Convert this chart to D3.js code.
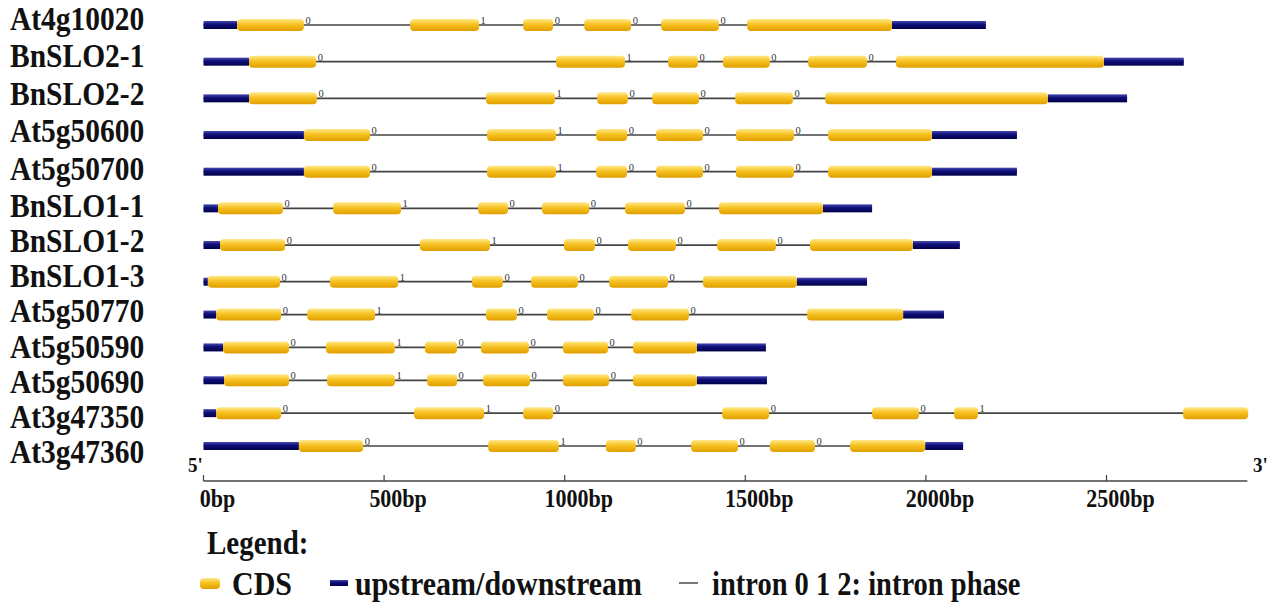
<!DOCTYPE html>
<html><head><meta charset="utf-8">
<script src="https://cdn.jsdelivr.net/npm/d3@7"></script>
<style>body{margin:0;background:#fff;} svg{display:block;}</style>
</head><body>
<svg id="chart" width="1281" height="602"></svg>
<script>
// ---- data (bp) ----
const genes = ["At4g10020","BnSLO2-1","BnSLO2-2","At5g50600","At5g50700","BnSLO1-1","BnSLO1-2","BnSLO1-3","At5g50770","At5g50590","At5g50690","At3g47350","At3g47360"];
const cds = [
  [[93,278],[572,763],[885,968],[1054,1184],[1267,1427],[1505,1906]],
  [[126,312],[976,1167],[1286,1369],[1438,1568],[1674,1837],[1917,2493]],
  [[126,314],[782,973],[1090,1175],[1242,1372],[1472,1632],[1721,2338]],
  [[278,461],[785,976],[1087,1173],[1253,1383],[1474,1635],[1729,2017]],
  [[278,461],[785,976],[1087,1173],[1253,1383],[1474,1635],[1729,2017]],
  [[40,220],[359,547],[760,843],[937,1068],[1167,1333],[1427,1715]],
  [[46,226],[599,793],[998,1084],[1175,1308],[1422,1585],[1679,1964]],
  [[12,212],[350,539],[743,829],[907,1037],[1123,1286],[1383,1643]],
  [[35,215],[287,475],[782,868],[951,1081],[1184,1344],[1671,1937]],
  [[54,237],[339,530],[613,702],[768,901],[995,1120],[1189,1366]],
  [[57,237],[342,530],[619,702],[774,904],[995,1123],[1189,1366]],
  [[35,215],[583,777],[885,968],[1436,1566],[1851,1981],[2078,2144],[2712,2892]],
  [[264,442],[788,984],[1114,1197],[1350,1480],[1568,1693],[1790,1998]]
];
const utr = [
  [[0,93],[1906,2166]],
  [[0,126],[2493,2714]],
  [[0,126],[2338,2557]],
  [[0,278],[2017,2252]],
  [[0,278],[2017,2252]],
  [[0,40],[1715,1851]],
  [[0,46],[1964,2094]],
  [[0,12],[1643,1837]],
  [[0,35],[1937,2050]],
  [[0,54],[1366,1557]],
  [[0,57],[1366,1560]],
  [[0,35]],
  [[0,264],[1998,2103]]
];
const phases = [
  [0,1,0,0,0],[0,1,0,0,0],[0,1,0,0,0],[0,1,0,0,0],[0,1,0,0,0],
  [0,1,0,0,0],[0,1,0,0,0],[0,1,0,0,0],[0,1,0,0,0],[0,1,0,0,0],
  [0,1,0,0,0],[0,1,0,0,0,1],[0,1,0,0,0]
];
const tickValues = [0,500,1000,1500,2000,2500];
const tickLabels = ["0bp","500bp","1000bp","1500bp","2000bp","2500bp"];
const axisMax = 2890;

// ---- drawing ----
const svg = d3.select("#chart");
const defs = svg.append("defs");
const gY = defs.append("linearGradient").attr("id","gCDS").attr("x1",0).attr("y1",0).attr("x2",0).attr("y2",1);
gY.append("stop").attr("offset","0%").attr("stop-color","#FFE98A");
gY.append("stop").attr("offset","45%").attr("stop-color","#F7C221");
gY.append("stop").attr("offset","100%").attr("stop-color","#E09E00");
const gB = defs.append("linearGradient").attr("id","gUTR").attr("x1",0).attr("y1",0).attr("x2",0).attr("y2",1);
gB.append("stop").attr("offset","0%").attr("stop-color","#4848B0");
gB.append("stop").attr("offset","40%").attr("stop-color","#10107A");
gB.append("stop").attr("offset","100%").attr("stop-color","#000048");

const x = d3.scaleLinear().domain([0, axisMax]).range([203.5, 203.5 + axisMax*0.3612]);
const yRow = d3.scaleLinear().domain([0,7,12]).range([25,281.7,446]);
const yLabCenter = d3.scaleLinear().domain([0,5,12]).range([20,207,453]);

const serif = "'Liberation Serif','Times New Roman',serif";
const cdsH = 12, utrH = 8;

function stretchText(parent, tx, ty, size, str, sy, anchor){
  return parent.append("text")
    .attr("transform",`translate(${tx},${ty}) scale(1,${sy})`)
    .attr("font-family",serif).attr("font-weight","bold").attr("font-size",size)
    .attr("fill","#111").attr("text-anchor",anchor||"start").text(str);
}

genes.forEach((g,i)=>{
  const yc = yRow(i);
  const row = svg.append("g");
  const allEnds = cds[i].concat(utr[i]);
  const start = d3.min(allEnds, d=>d[0]), end = d3.max(allEnds, d=>d[1]);
  row.append("line").attr("x1",x(start)).attr("x2",x(end)).attr("y1",yc).attr("y2",yc)
    .attr("stroke","#444").attr("stroke-width",1.7);
  row.selectAll("rect.utr").data(utr[i]).join("rect").attr("class","utr")
    .attr("x",d=>x(d[0])).attr("width",d=>x(d[1])-x(d[0]))
    .attr("y",yc-utrH/2).attr("height",utrH).attr("fill","url(#gUTR)");
  row.selectAll("rect.cds").data(cds[i]).join("rect").attr("class","cds")
    .attr("x",d=>x(d[0])).attr("width",d=>x(d[1])-x(d[0]))
    .attr("y",yc-cdsH/2).attr("height",cdsH).attr("rx",4).attr("ry",4).attr("fill","url(#gCDS)");
  row.selectAll("text.ph").data(phases[i]).join("text").attr("class","ph")
    .attr("x",(d,k)=>x(cds[i][k][1])+1.5).attr("y",yc-1)
    .attr("font-family",serif).attr("font-size",10.5).attr("fill","#333").text(d=>d);
  stretchText(svg, 10, yLabCenter(i) + 10, 29.5, g, 1.12);
});

// axis
const axisY = 481;
const ax = svg.append("g").attr("transform",`translate(0,${axisY})`);
ax.append("line").attr("x1",x(0)).attr("x2",x(axisMax)).attr("y1",0).attr("y2",0).attr("stroke","#444").attr("stroke-width",1.5);
ax.selectAll("line.tk").data(tickValues).join("line").attr("class","tk")
  .attr("x1",d=>x(d)).attr("x2",d=>x(d)).attr("y1",0).attr("y2",-6).attr("stroke","#444").attr("stroke-width",1.2);
tickValues.forEach((d,k)=>{ stretchText(ax, x(d)+14, 26, 22, tickLabels[k], 1.1, "middle"); });
stretchText(svg, 188, 472, 19, "5'", 1.1);
stretchText(svg, 1253, 472, 19, "3'", 1.1);

// legend
stretchText(svg, 207, 554, 29, "Legend:", 1.15);
svg.append("rect").attr("x",200).attr("y",578).attr("width",20).attr("height",11).attr("rx",4).attr("fill","url(#gCDS)");
stretchText(svg, 232, 595, 30, "CDS", 1.15);
svg.append("rect").attr("x",330).attr("y",580).attr("width",18).attr("height",6).attr("fill","url(#gUTR)");
stretchText(svg, 355, 595, 30, "upstream/downstream", 1.15);
svg.append("line").attr("x1",679).attr("x2",698).attr("y1",583).attr("y2",583).attr("stroke","#555").attr("stroke-width",1.6);
stretchText(svg, 712, 595, 28.5, "intron 0 1 2: intron phase", 1.15);
</script>
</body></html>
